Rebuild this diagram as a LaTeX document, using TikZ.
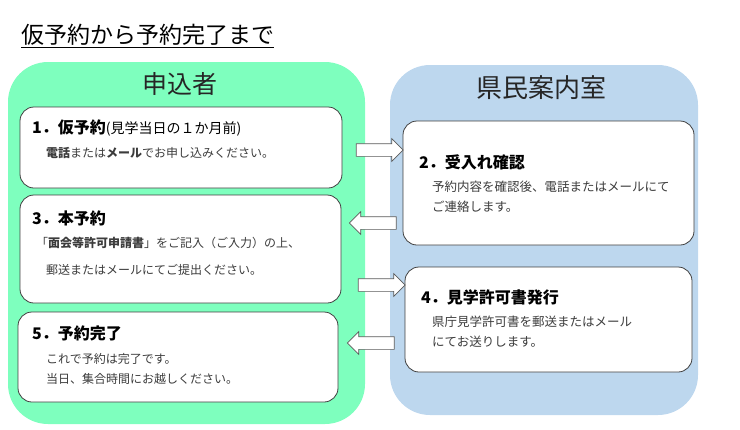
\documentclass[tikz,border=0pt]{standalone}
\usepackage{fontspec}
\setmainfont{Noto Sans CJK JP}
\usetikzlibrary{shapes.arrows}
\definecolor{applicantgreen}{HTML}{7EFFBE}
\definecolor{officeblue}{HTML}{BDD7EE}
\definecolor{cardline}{HTML}{404040}
\definecolor{bodygray}{HTML}{3C3C3C}
\definecolor{arrowgray}{HTML}{5A5A5A}

\begin{document}
\begin{tikzpicture}[x=1pt,y=-1pt]
      \tikzset{panel/.style={rounded corners=40pt, inner sep=0pt},
        header/.style={text=black!85, font=\fontsize{25}{25}\selectfont},
        card/.style={draw=cardline, fill=white, line width=0.8pt, rounded corners=14pt, inner sep=0pt},
        cardtitle/.style={anchor=west, inner sep=0pt, font=\bfseries\fontsize{16}{16}\selectfont},
        cardtext/.style={anchor=west, inner sep=0pt, text=bodygray, font=\fontsize{12}{12}\selectfont},
        officetext/.style={cardtext, font=\fontsize{12.5}{12.5}\selectfont},
        blockarrow/.style={single arrow, draw=arrowgray, fill=white, line width=0.7pt,
          minimum height=47pt, inner sep=6pt, single arrow head extend=5pt, single arrow head indent=0pt}}
        \useasboundingbox (0,0) rectangle (740,429);
        \node[anchor=west, inner sep=0pt, font=\fontsize{23}{23}\selectfont] (title) at (21,36) {\underline{仮予約から予約完了まで}};
        \node[panel, fill=applicantgreen, minimum width=357pt, minimum height=362pt] (applicant) at (186.5,243) {};
        \node[panel, fill=officeblue, minimum width=308pt, minimum height=350pt] (office) at (544,240) {};
        \node[header] (applicanthead) at (180,84) {申込者};
        \node[header, font=\fontsize{26}{26}\selectfont] (officehead) at (541,88) {県民案内室};
        \node[card, minimum width=322pt, minimum height=81pt] (step1) at (181,147.5) {};
        \node[card, minimum width=321pt, minimum height=108pt] (step3) at (180.5,249) {};
        \node[card, minimum width=320pt, minimum height=90pt] (step5) at (178,357) {};
        \node[card, minimum width=291pt, minimum height=124pt] (step2) at (548.5,183) {};
        \node[card, minimum width=287pt, minimum height=105pt] (step4) at (548.5,319.5) {};
        \node[cardtitle] (step1title) at (32,128) {1．仮予約{\mdseries\fontsize{14}{14}\selectfont (見学当日の１か月前)}};
        \node[cardtext] (step1line) at (46,153) {\textbf{電話}または\textbf{メール}でお申し込みください。};
        \node[cardtitle] (step3title) at (32,218) {3．本予約};
        \node[cardtext] (step3line1) at (36,243) {「\textbf{面会等許可申請書}」をご記入（ご入力）の上、};
        \node[cardtext] (step3line2) at (46,270) {郵送またはメールにてご提出ください。};
        \node[cardtitle] (step5title) at (32,333) {5．予約完了};
        \node[cardtext] (step5line1) at (46,359) {これで予約は完了です。};
        \node[cardtext] (step5line2) at (46,379) {当日、集合時間にお越しください。};
        \node[cardtitle] (step2title) at (419,162) {2．受入れ確認};
        \node[officetext] (step2line1) at (432,187) {予約内容を確認後、電話またはメールにて};
        \node[officetext] (step2line2) at (432,207) {ご連絡します。};
        \node[cardtitle] (step4title) at (421,297) {4．見学許可書発行};
        \node[officetext] (step4line1) at (432,322) {県庁見学許可書を郵送またはメール};
        \node[officetext] (step4line2) at (432,342) {にてお送りします。};
        \node[blockarrow] (arrow12) at (376.5,150) {};
        \node[blockarrow, shape border rotate=180] (arrow23) at (376,223) {};
        \node[blockarrow] (arrow34) at (378.5,285) {};
        \node[blockarrow, shape border rotate=180] (arrow45) at (374,343) {};
\end{tikzpicture}
\end{document}
